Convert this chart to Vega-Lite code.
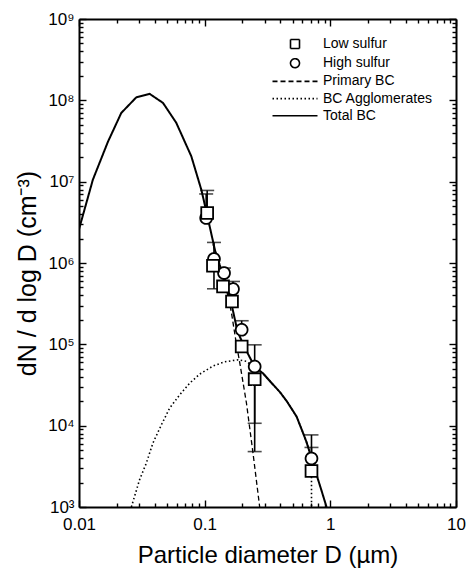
{
  "$schema": "https://vega.github.io/schema/vega-lite/v6.json",
  "autosize": "none",
  "width": 377,
  "height": 488,
  "padding": {"left": 79, "top": 19, "right": 11, "bottom": 64},
  "background": "white",
  "config": {
    "view": {"stroke": null},
    "font": "Liberation Sans",
    "axis": {"grid": false, "domainColor": "black", "domainWidth": 2, "tickColor": "black", "tickWidth": 1.4, "labelColor": "black", "titleColor": "black", "labelFont": "Liberation Sans", "titleFont": "Liberation Sans", "titleFontWeight": "normal", "labelOverlap": false, "labelBound": false, "labelFlush": false}
  },
  "datasets": {
    "curves": [
      {"series": "Total BC", "i": 1, "D": 0.01, "N": 2600000},
      {"series": "Total BC", "i": 2, "D": 0.0129, "N": 10600000},
      {"series": "Total BC", "i": 3, "D": 0.017, "N": 31000000},
      {"series": "Total BC", "i": 4, "D": 0.0217, "N": 70000000},
      {"series": "Total BC", "i": 5, "D": 0.0286, "N": 109000000},
      {"series": "Total BC", "i": 6, "D": 0.0365, "N": 120000000},
      {"series": "Total BC", "i": 7, "D": 0.0466, "N": 93000000},
      {"series": "Total BC", "i": 8, "D": 0.0594, "N": 53000000},
      {"series": "Total BC", "i": 9, "D": 0.0783, "N": 20500000},
      {"series": "Total BC", "i": 10, "D": 0.0942, "N": 7900000},
      {"series": "Total BC", "i": 11, "D": 0.1031, "N": 4300000},
      {"series": "Total BC", "i": 12, "D": 0.124, "N": 1200000},
      {"series": "Total BC", "i": 13, "D": 0.14, "N": 740000},
      {"series": "Total BC", "i": 14, "D": 0.15, "N": 520000},
      {"series": "Total BC", "i": 15, "D": 0.163, "N": 320000},
      {"series": "Total BC", "i": 16, "D": 0.179, "N": 165000},
      {"series": "Total BC", "i": 17, "D": 0.19, "N": 125000},
      {"series": "Total BC", "i": 18, "D": 0.215, "N": 83000},
      {"series": "Total BC", "i": 19, "D": 0.25, "N": 53000},
      {"series": "Total BC", "i": 20, "D": 0.291, "N": 44000},
      {"series": "Total BC", "i": 21, "D": 0.35, "N": 32000},
      {"series": "Total BC", "i": 22, "D": 0.396, "N": 26000},
      {"series": "Total BC", "i": 23, "D": 0.45, "N": 20000},
      {"series": "Total BC", "i": 24, "D": 0.538, "N": 13000},
      {"series": "Total BC", "i": 25, "D": 0.6, "N": 8500},
      {"series": "Total BC", "i": 26, "D": 0.646, "N": 6300},
      {"series": "Total BC", "i": 27, "D": 0.708, "N": 4000},
      {"series": "Total BC", "i": 28, "D": 0.776, "N": 2500},
      {"series": "Total BC", "i": 29, "D": 0.85, "N": 1600},
      {"series": "Total BC", "i": 30, "D": 0.933, "N": 1000},
      {"series": "Primary BC", "i": 1, "D": 0.1164, "N": 1700000},
      {"series": "Primary BC", "i": 2, "D": 0.13, "N": 1050000},
      {"series": "Primary BC", "i": 3, "D": 0.14, "N": 680000},
      {"series": "Primary BC", "i": 4, "D": 0.15, "N": 450000},
      {"series": "Primary BC", "i": 5, "D": 0.163, "N": 250000},
      {"series": "Primary BC", "i": 6, "D": 0.179, "N": 100000},
      {"series": "Primary BC", "i": 7, "D": 0.19, "N": 60000},
      {"series": "Primary BC", "i": 8, "D": 0.215, "N": 19000},
      {"series": "Primary BC", "i": 9, "D": 0.2425, "N": 4600},
      {"series": "Primary BC", "i": 10, "D": 0.274, "N": 1000},
      {"series": "BC Agglomerates", "i": 1, "D": 0.0261, "N": 1000},
      {"series": "BC Agglomerates", "i": 2, "D": 0.0303, "N": 2150},
      {"series": "BC Agglomerates", "i": 3, "D": 0.0343, "N": 3450},
      {"series": "BC Agglomerates", "i": 4, "D": 0.0387, "N": 6090},
      {"series": "BC Agglomerates", "i": 5, "D": 0.0452, "N": 10200},
      {"series": "BC Agglomerates", "i": 6, "D": 0.0526, "N": 16400},
      {"series": "BC Agglomerates", "i": 7, "D": 0.0632, "N": 23900},
      {"series": "BC Agglomerates", "i": 8, "D": 0.076, "N": 33300},
      {"series": "BC Agglomerates", "i": 9, "D": 0.0912, "N": 43000},
      {"series": "BC Agglomerates", "i": 10, "D": 0.1164, "N": 54000},
      {"series": "BC Agglomerates", "i": 11, "D": 0.1443, "N": 61000},
      {"series": "BC Agglomerates", "i": 12, "D": 0.184, "N": 64500},
      {"series": "BC Agglomerates", "i": 13, "D": 0.215, "N": 62000},
      {"series": "BC Agglomerates", "i": 14, "D": 0.25, "N": 51500},
      {"series": "BC Agglomerates", "i": 15, "D": 0.291, "N": 44000},
      {"series": "BC Agglomerates", "i": 16, "D": 0.35, "N": 32000},
      {"series": "BC Agglomerates", "i": 17, "D": 0.396, "N": 26000},
      {"series": "BC Agglomerates", "i": 18, "D": 0.45, "N": 20000},
      {"series": "BC Agglomerates", "i": 19, "D": 0.538, "N": 13000},
      {"series": "BC Agglomerates", "i": 20, "D": 0.6, "N": 8500},
      {"series": "BC Agglomerates", "i": 21, "D": 0.646, "N": 6300},
      {"series": "BC Agglomerates", "i": 22, "D": 0.708, "N": 4000},
      {"series": "BC Agglomerates", "i": 23, "D": 0.7081, "N": 1000}
    ],
    "points": [
      {"series": "High sulfur", "D": 0.1028, "N": 3570000},
      {"series": "High sulfur", "D": 0.1186, "N": 1120000},
      {"series": "High sulfur", "D": 0.1426, "N": 752000},
      {"series": "High sulfur", "D": 0.168, "N": 478000},
      {"series": "High sulfur", "D": 0.197, "N": 151000},
      {"series": "High sulfur", "D": 0.25, "N": 53300},
      {"series": "High sulfur", "D": 0.708, "N": 3950},
      {"series": "Low sulfur", "D": 0.1047, "N": 4120000},
      {"series": "Low sulfur", "D": 0.1164, "N": 925000},
      {"series": "Low sulfur", "D": 0.14, "N": 515000},
      {"series": "Low sulfur", "D": 0.165, "N": 336000},
      {"series": "Low sulfur", "D": 0.197, "N": 94000},
      {"series": "Low sulfur", "D": 0.25, "N": 37300},
      {"series": "Low sulfur", "D": 0.708, "N": 2770}
    ],
    "errors": [
      {"series": "High sulfur", "D": 0.1028, "lo": 3570000, "hi": 7060000},
      {"series": "High sulfur", "D": 0.1186, "lo": 482000, "hi": 1790000},
      {"series": "High sulfur", "D": 0.1426, "lo": 752000, "hi": 867000},
      {"series": "High sulfur", "D": 0.168, "lo": 478000, "hi": 593000},
      {"series": "High sulfur", "D": 0.197, "lo": 151000, "hi": 195000},
      {"series": "High sulfur", "D": 0.25, "lo": 10700, "hi": 98600},
      {"series": "High sulfur", "D": 0.708, "lo": 3950, "hi": 7700},
      {"series": "Low sulfur", "D": 0.1047, "lo": 4120000, "hi": 7800000},
      {"series": "Low sulfur", "D": 0.25, "lo": 4800, "hi": 37300},
      {"series": "Low sulfur", "D": 0.708, "lo": 2770, "hi": 5400}
    ],
    "caps": [
      {"series": "High sulfur", "D": 0.1028, "N": 7060000},
      {"series": "High sulfur", "D": 0.1186, "N": 1790000},
      {"series": "High sulfur", "D": 0.1186, "N": 482000},
      {"series": "High sulfur", "D": 0.1426, "N": 867000},
      {"series": "High sulfur", "D": 0.168, "N": 593000},
      {"series": "High sulfur", "D": 0.197, "N": 195000},
      {"series": "High sulfur", "D": 0.25, "N": 98600},
      {"series": "High sulfur", "D": 0.25, "N": 10700},
      {"series": "High sulfur", "D": 0.708, "N": 7700},
      {"series": "Low sulfur", "D": 0.1047, "N": 7800000},
      {"series": "Low sulfur", "D": 0.25, "N": 4800},
      {"series": "Low sulfur", "D": 0.708, "N": 5400}
    ]
  },
  "resolve": {"axis": {"x": "independent", "y": "independent"}},
  "layer": [
    {
      "data": {"name": "curves"},
      "transform": [{"filter": "datum.series === 'Primary BC'"}],
      "mark": {"type": "line", "color": "black", "clip": true, "strokeWidth": 1.3},
      "encoding": {
        "x": {"field": "D", "type": "quantitative",
          "scale": {"type": "log", "domain": [0.01, 10], "nice": false},
          "axis": {
            "orient": "bottom",
            "title": "Particle diameter D (µm)",
            "values": [0.01, 0.1, 1, 10],
            "format": "~g",
            "tickSize": -7,
            "labelFontSize": 17,
            "labelPadding": 16,
            "titleFontSize": 24,
            "titlePadding": 11
          }
        },
        "y": {"field": "N", "type": "quantitative",
          "scale": {"type": "log", "domain": [1000, 1000000000], "nice": false},
          "axis": {
            "orient": "left",
            "title": "dN / d log D (cm⁻³)",
            "values": [1000, 10000, 100000, 1000000, 10000000, 100000000, 1000000000],
            "labelExpr": "'10' + ['⁰','¹','²','³','⁴','⁵','⁶','⁷','⁸','⁹'][round(log(datum.value)/LN10)]",
            "tickSize": -7,
            "labelFontSize": 17,
            "labelPadding": 12,
            "titleFontSize": 25,
            "titlePadding": 7,
            "titleY": 254
          }
        },
        "strokeDash": {"field": "series", "type": "nominal",
          "scale": {"domain": ["Low sulfur", "High sulfur", "Primary BC", "BC Agglomerates", "Total BC"], "range": [[1,0],[1,0],[5,3],[1.5,2.5],[1,0]]}
        },
        "order": {"field": "i", "type": "quantitative"}
      }
    },
    {
      "data": {"name": "curves"},
      "transform": [{"filter": "datum.series === 'BC Agglomerates'"}],
      "mark": {"type": "line", "color": "black", "clip": true, "strokeWidth": 1.6},
      "encoding": {
        "x": {"field": "D", "type": "quantitative", "axis": null},
        "y": {"field": "N", "type": "quantitative", "axis": null},
        "strokeDash": {"field": "series", "type": "nominal"},
        "order": {"field": "i", "type": "quantitative"}
      }
    },
    {
      "data": {"name": "curves"},
      "transform": [{"filter": "datum.series === 'Total BC'"}],
      "mark": {"type": "line", "color": "black", "clip": true, "strokeWidth": 2},
      "encoding": {
        "x": {"field": "D", "type": "quantitative", "axis": null},
        "y": {"field": "N", "type": "quantitative", "axis": null},
        "strokeDash": {"field": "series", "type": "nominal"},
        "order": {"field": "i", "type": "quantitative"}
      }
    },
    {
      "data": {"name": "errors"},
      "mark": {"type": "rule", "color": "black", "strokeWidth": 1.6},
      "encoding": {
        "x": {"field": "D", "type": "quantitative",
          "axis": {"orient": "bottom", "title": null, "labels": false, "domain": false, "tickSize": -4,
            "values": [0.02,0.03,0.04,0.05,0.06,0.07,0.08,0.09,0.2,0.3,0.4,0.5,0.6,0.7,0.8,0.9,2,3,4,5,6,7,8,9]}},
        "y": {"field": "lo", "type": "quantitative",
          "axis": {"orient": "left", "title": null, "labels": false, "domain": false, "tickSize": -4,
            "values": [2000,3000,4000,5000,6000,7000,8000,9000,20000,30000,40000,50000,60000,70000,80000,90000,200000,300000,400000,500000,600000,700000,800000,900000,2000000,3000000,4000000,5000000,6000000,7000000,8000000,9000000,20000000,30000000,40000000,50000000,60000000,70000000,80000000,90000000,200000000,300000000,400000000,500000000,600000000,700000000,800000000,900000000]}},
        "y2": {"field": "hi"}
      }
    },
    {
      "data": {"name": "caps"},
      "mark": {"type": "tick", "orient": "horizontal", "color": "black", "size": 14, "thickness": 1.6},
      "encoding": {
        "x": {"field": "D", "type": "quantitative",
          "axis": {"orient": "top", "title": null, "labels": false, "tickSize": -7, "values": [0.01, 0.1, 1, 10]}},
        "y": {"field": "N", "type": "quantitative",
          "axis": {"orient": "right", "title": null, "labels": false, "tickSize": -7, "values": [1000, 10000, 100000, 1000000, 10000000, 100000000, 1000000000]}}
      }
    },
    {
      "data": {"name": "points"},
      "mark": {"type": "point", "filled": true, "fill": "white", "stroke": "black", "strokeWidth": 1.8, "opacity": 1, "size": 140},
      "encoding": {
        "x": {"field": "D", "type": "quantitative",
          "axis": {"orient": "top", "title": null, "labels": false, "domain": false, "tickSize": -4,
            "values": [0.02,0.03,0.04,0.05,0.06,0.07,0.08,0.09,0.2,0.3,0.4,0.5,0.6,0.7,0.8,0.9,2,3,4,5,6,7,8,9]}},
        "y": {"field": "N", "type": "quantitative",
          "axis": {"orient": "right", "title": null, "labels": false, "domain": false, "tickSize": -4,
            "values": [2000,3000,4000,5000,6000,7000,8000,9000,20000,30000,40000,50000,60000,70000,80000,90000,200000,300000,400000,500000,600000,700000,800000,900000,2000000,3000000,4000000,5000000,6000000,7000000,8000000,9000000,20000000,30000000,40000000,50000000,60000000,70000000,80000000,90000000,200000000,300000000,400000000,500000000,600000000,700000000,800000000,900000000]}},
        "shape": {"field": "series", "type": "nominal",
          "scale": {"domain": ["Low sulfur", "High sulfur", "Primary BC", "BC Agglomerates", "Total BC"], "range": ["square", "circle", "M-5,0H5", "M-5,0H5", "M-5,0H5"]},
          "legend": {
            "title": null, "orient": "none", "legendX": 209, "legendY": 18,
            "padding": 0, "symbolSize": 81, "rowPadding": 3.2,
            "labelFont": "Liberation Sans", "labelFontSize": 14, "labelColor": "black", "labelOffset": 21,
            "symbolStrokeColor": "black", "symbolFillColor": "white", "symbolStrokeWidth": 1.6, "symbolOpacity": 1
          }
        },
        "strokeDash": {"field": "series", "type": "nominal"}
      }
    }
  ]
}
